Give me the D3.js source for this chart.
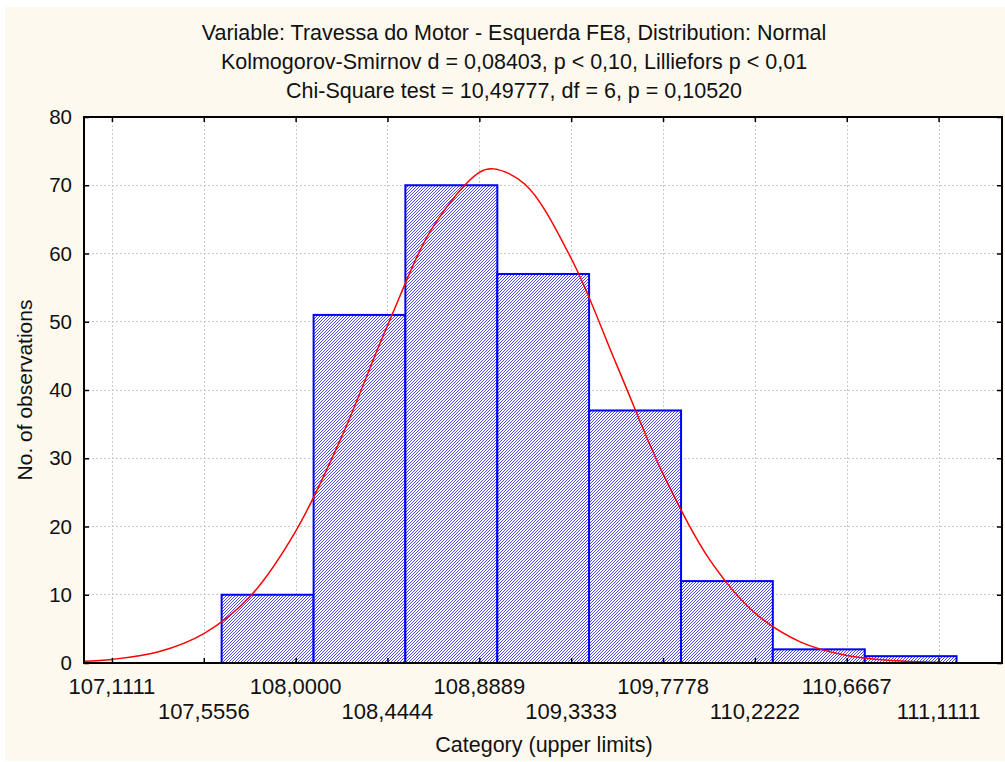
<!DOCTYPE html>
<html><head><meta charset="utf-8">
<script src="https://cdn.jsdelivr.net/npm/d3@7"></script>
<style>
html,body{margin:0;padding:0;background:#fff;}
svg{display:block;}
text{font-family:"Liberation Sans",Arial,Helvetica,sans-serif;fill:#111;}
</style></head>
<body>
<svg id="chart" width="1005" height="762"></svg>
<script>
// ---- data ----
const titleLines = [
  "Variable: Travessa do Motor - Esquerda FE8, Distribution: Normal",
  "Kolmogorov-Smirnov d = 0,08403, p < 0,10, Lilliefors p < 0,01",
  "Chi-Square test = 10,49777, df = 6, p = 0,10520"
];
const xTickValues = [107.1111, 107.5556, 108.0000, 108.4444, 108.8889, 109.3333, 109.7778, 110.2222, 110.6667, 111.1111];
const xTickLabels = ["107,1111", "107,5556", "108,0000", "108,4444", "108,8889", "109,3333", "109,7778", "110,2222", "110,6667", "111,1111"];
const yTickValues = [0, 10, 20, 30, 40, 50, 60, 70, 80];
const binLower = [107.198, 107.642, 108.087, 108.531, 108.976, 109.420, 109.865, 110.309, 110.754];
const binUpper = [107.642, 108.087, 108.531, 108.976, 109.420, 109.865, 110.309, 110.754, 111.198];
const counts   = [0, 10, 51, 70, 57, 37, 12, 2, 1];
// fitted normal curve
const curveX = [106.976, 107.111, 107.333, 107.556, 107.778, 108.000, 108.222, 108.444, 108.667, 108.889, 108.960, 109.111, 109.333, 109.556, 109.778, 110.000, 110.222, 110.444, 110.667, 110.889, 111.111, 111.333, 111.418];
const curveY = [0.25, 0.53, 1.6, 4.3, 9.7, 19.3, 33.1, 49.4, 64.0, 71.9, 72.4, 70.1, 59.3, 43.5, 27.7, 15.3, 7.35, 3.06, 1.1, 0.35, 0.09, 0.02, 0.01];
const xAxisTitle = "Category (upper limits)";
const yAxisTitle = "No. of observations";

// ---- layout ----
const W = 1005, H = 762;
const plot = {left: 84, right: 1002, top: 117, bottom: 663};
const svg = d3.select("#chart");

svg.append("rect").attr("x", 5).attr("y", 7).attr("width", W - 5).attr("height", H - 8).attr("fill", "#fdf9ef");

const x = d3.scaleLinear().domain([106.976, 111.418]).range([plot.left, plot.right]);
const y = d3.scaleLinear().domain([0, 80]).range([plot.bottom, plot.top]);

const defs = svg.append("defs");
const pat = defs.append("pattern").attr("id", "hatch").attr("patternUnits", "userSpaceOnUse")
  .attr("width", 3).attr("height", 3);
pat.append("rect").attr("width", 3).attr("height", 3).attr("fill", "#fff");
pat.append("path").attr("d", "M-1,1 L1,-1 M0,3 L3,0 M2,4 L4,2").attr("stroke", "#1a1aff")
  .attr("stroke-width", 0.8);
defs.append("clipPath").attr("id", "clip").append("rect")
  .attr("x", plot.left).attr("y", plot.top).attr("width", plot.right - plot.left).attr("height", plot.bottom - plot.top);

// plot background
svg.append("rect").attr("x", plot.left).attr("y", plot.top)
  .attr("width", plot.right - plot.left).attr("height", plot.bottom - plot.top).attr("fill", "#fff");

// grid
const grid = svg.append("g");
grid.selectAll(".gy").data(yTickValues.filter(d => d > 0 && d < 80)).enter().append("line")
  .attr("x1", plot.left).attr("x2", plot.right).attr("y1", d => y(d)).attr("y2", d => y(d))
  .attr("stroke", "#c8c8c8").attr("stroke-width", 1).attr("stroke-dasharray", "2,2").attr("shape-rendering", "crispEdges");
grid.selectAll(".gx").data(xTickValues).enter().append("line")
  .attr("x1", d => Math.round(x(d)) + 0.5).attr("x2", d => Math.round(x(d)) + 0.5).attr("y1", plot.top).attr("y2", plot.bottom)
  .attr("stroke", "#c8c8c8").attr("stroke-width", 1).attr("stroke-dasharray", "2,2");

// bars
const bars = svg.append("g").attr("clip-path", "url(#clip)");
bars.selectAll("rect").data(counts).enter().append("rect")
  .attr("x", (d, i) => x(binLower[i]))
  .attr("width", (d, i) => x(binUpper[i]) - x(binLower[i]))
  .attr("y", d => y(d))
  .attr("height", d => y(0) - y(d))
  .attr("fill", "url(#hatch)")
  .attr("stroke", "#0000ff").attr("stroke-width", 2);

// normal curve
const pts = curveX.map((v, i) => [v, curveY[i]]);
svg.append("path").datum(pts).attr("clip-path", "url(#clip)")
  .attr("d", d3.line().x(d => x(d[0])).y(d => y(d[1])).curve(d3.curveCatmullRom.alpha(0.5)))
  .attr("fill", "none").attr("stroke", "#ff0000").attr("stroke-width", 1.5);

// axes (ticks inward on all sides)
const tickLen = 5;
const axisG = svg.append("g");
const xb = d3.axisBottom(x).tickValues(xTickValues).tickSize(-tickLen).tickFormat("");
const xt = d3.axisTop(x).tickValues(xTickValues).tickSize(-tickLen).tickFormat("");
const yl = d3.axisLeft(y).tickValues(yTickValues).tickSize(-tickLen).tickFormat("");
const yr = d3.axisRight(y).tickValues(yTickValues).tickSize(-tickLen).tickFormat("");
axisG.append("g").attr("transform", `translate(0,${plot.bottom})`).call(xb);
axisG.append("g").attr("transform", `translate(0,${plot.top})`).call(xt);
axisG.append("g").attr("transform", `translate(${plot.left},0)`).call(yl);
axisG.append("g").attr("transform", `translate(${plot.right},0)`).call(yr);
axisG.selectAll(".domain").remove();
axisG.selectAll(".tick line").attr("stroke", "#000").attr("stroke-width", 1.5);

// frame
svg.append("rect").attr("x", plot.left).attr("y", plot.top)
  .attr("width", plot.right - plot.left).attr("height", plot.bottom - plot.top)
  .attr("fill", "none").attr("stroke", "#000").attr("stroke-width", 2);

// tick labels
svg.append("g").selectAll("text").data(xTickValues).enter().append("text")
  .attr("x", d => x(d)).attr("y", (d, i) => i % 2 === 0 ? 694 : 719)
  .attr("text-anchor", "middle").attr("font-size", 22)
  .text((d, i) => xTickLabels[i]);
svg.append("g").selectAll("text").data(yTickValues).enter().append("text")
  .attr("x", 72).attr("y", d => y(d)).attr("dy", "0.35em")
  .attr("text-anchor", "end").attr("font-size", 20.5)
  .text(d => d);

// titles
svg.append("g").selectAll("text").data(titleLines).enter().append("text")
  .attr("x", 514).attr("y", (d, i) => 40 + i * 29)
  .attr("text-anchor", "middle").attr("font-size", 21.5)
  .text(d => d);
svg.append("text").attr("x", 544).attr("y", 752).attr("text-anchor", "middle").attr("font-size", 21.5).text(xAxisTitle);
svg.append("text").attr("transform", `translate(32,${(plot.top + plot.bottom) / 2}) rotate(-90)`)
  .attr("text-anchor", "middle").attr("font-size", 21).text(yAxisTitle);
</script>
</body></html>
